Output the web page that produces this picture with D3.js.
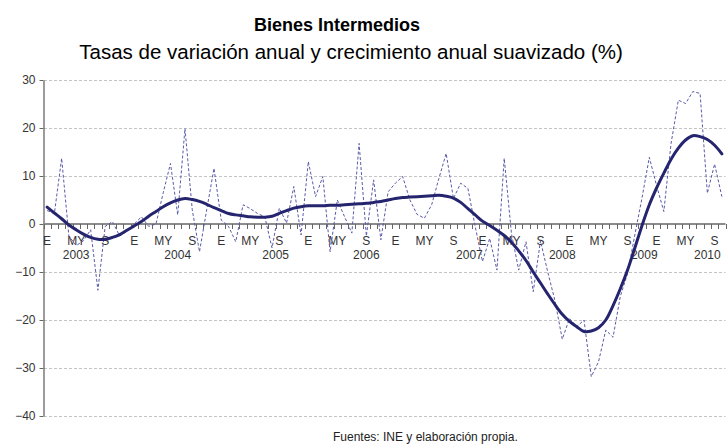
<!DOCTYPE html>
<html><head><meta charset="utf-8">
<script src="https://cdn.jsdelivr.net/npm/d3@7"></script>
<style>
body{margin:0;background:#fff}
svg{display:block}
text{font-family:"Liberation Sans",Arial,sans-serif}
</style>
</head><body>
<svg id="c" width="727" height="446"></svg>
<script>
// ---- data ----
const years = [2003, 2004, 2005, 2006, 2007, 2008, 2009, 2010];
const monthsInLastYear = 10;
const monthTickLabels = ["E", "", "", "", "MY", "", "", "", "S", "", "", ""];
const yTicks = [30, 20, 10, 0, -10, -20, -30, -40];
// year label anchors, expressed as month index counted from Jan 2003
const yearLabelAt = [4, 18, 31.5, 44, 58.2, 71, 82.3, 91];

// Tasa de variación anual (dashed)
const rawRate = [
  2.8, 2.2, 13.7, -2.5, -4.5, -3.5, -1.2, -13.8, -0.5, 0.5, -2.5, -1.5,
  0.0, 1.5, -0.5, 0.0, 6.5, 12.6, 1.9, 19.9, 3.0, -5.8, 3.0, 11.6,
  0.8, -0.5, -3.7, 4.0, 3.2, 2.2, 1.5, -5.0, 3.3, 0.2, 7.8, -2.3,
  13.0, 5.7, 9.9, -5.8, 5.0, 1.5, -1.9, 16.8, -2.5, 9.2, -3.3, 6.7,
  8.5, 9.9, 5.0, 2.0, 1.2, 4.0, 9.5, 14.7, 5.3, 8.5, 7.4, -0.5,
  -7.8, -3.0, -9.6, 13.7, -2.0, -9.6, -3.7, -14.1, -3.5, -10.0, -16.0, -24.0,
  -19.7, -21.4, -20.0, -31.8, -28.7, -22.1, -23.6, -15.1, -10.3, -2.3, 5.5, 13.9,
  8.0, 2.6, 16.8, 25.8, 25.1, 27.6, 27.2, 6.4, 12.5, 5.7
];
// Crecimiento anual suavizado (solid)
const smoothRate = [
  3.5, 2.3, 1.1, -0.2, -1.2, -2.1, -2.8, -3.2, -3.2, -2.8, -2.2, -1.3,
  -0.4, 0.5, 1.6, 2.6, 3.6, 4.4, 5.0, 5.3, 5.1, 4.7, 4.1, 3.4,
  2.8, 2.2, 1.9, 1.7, 1.5, 1.4, 1.4, 1.6, 2.2, 2.8, 3.3, 3.6,
  3.8, 3.8, 3.8, 3.9, 3.9, 4.0, 4.1, 4.2, 4.3, 4.5, 4.7, 5.0,
  5.3, 5.5, 5.6, 5.7, 5.8, 5.9, 6.0, 5.8, 5.4, 4.5, 3.2, 1.9,
  0.6, -0.3, -1.3, -2.4, -3.8, -5.6, -7.6, -10.0, -12.3, -14.6, -16.8, -18.8,
  -20.3, -21.4, -22.4, -22.3, -21.6, -20.0, -17.0, -13.5, -9.6, -5.0, -0.3, 4.0,
  7.5, 10.6, 13.5, 15.8, 17.5, 18.4, 18.2, 17.6, 16.4, 14.6
];

// categories (one per month)
const categories = [];
years.forEach((yr, yi) => {
  const n = yi === years.length - 1 ? monthsInLastYear : 12;
  for (let m = 0; m < n; m++) categories.push({ key: yr + "-" + (m + 1), year: yr, m: m });
});

// ---- chart ----
const svg = d3.select("#c");
const x = d3.scaleBand().domain(categories.map(d => d.key)).range([43.5, 725.5]).padding(0);
const y = d3.scaleLinear().domain([-40, 30]).range([416, 80]);
const bw = x.bandwidth();
const cx = k => x(k) + bw / 2;
const xIdx = i => x.range()[0] + (i + 0.5) * bw;

// gridlines
svg.append("g").selectAll("line").data(yTicks.filter(t => t !== 0)).join("line")
  .attr("x1", 44).attr("x2", 725.5)
  .attr("y1", d => Math.round(y(d)) + 0.5).attr("y2", d => Math.round(y(d)) + 0.5)
  .attr("stroke", "#c4c4c4").attr("stroke-width", 1).attr("stroke-dasharray", "3,2");

// y axis
const yAxis = svg.append("g").attr("transform", "translate(43.5,0)")
  .call(d3.axisLeft(y).tickValues(yTicks).tickSize(4).tickSizeOuter(0).tickPadding(4));
yAxis.select(".domain").attr("stroke", "#666").attr("stroke-width", 1.3);
yAxis.selectAll(".tick line").attr("stroke", "#666");
yAxis.selectAll(".tick text").attr("fill", "#333").style("font-size", "12px")
  .style("font-family", "'Liberation Sans', Arial, sans-serif");

// zero line with month tick marks
const y0 = y(0);
svg.append("line").attr("x1", 43.5).attr("x2", 725.5).attr("y1", y0).attr("y2", y0)
  .attr("stroke", "#8c8c8c").attr("stroke-width", 2);
svg.append("g").selectAll("line").data(d3.range(categories.length + 1)).join("line")
  .attr("x1", i => Math.round(x.range()[0] + i * bw) + 0.5)
  .attr("x2", i => Math.round(x.range()[0] + i * bw) + 0.5)
  .attr("y1", y0).attr("y2", y0 + 5)
  .attr("stroke", "#666").attr("stroke-width", 1);

// month labels
svg.append("g").selectAll("text").data(categories.filter(d => monthTickLabels[d.m] !== "")).join("text")
  .attr("x", d => cx(d.key)).attr("y", 244.5).attr("text-anchor", "middle")
  .attr("fill", "#333").style("font-size", "12px").text(d => monthTickLabels[d.m]);

// year labels
svg.append("g").selectAll("text").data(years).join("text")
  .attr("x", (d, i) => xIdx(yearLabelAt[i])).attr("y", 259).attr("text-anchor", "middle")
  .attr("fill", "#333").style("font-size", "12px").text(d => d);

// dashed series
const lineRaw = d3.line().x((d, i) => cx(categories[i].key)).y(d => y(d));
svg.append("path").datum(rawRate).attr("d", lineRaw)
  .attr("fill", "none").attr("stroke", "#5a5aa8").attr("stroke-width", 1)
  .attr("stroke-dasharray", "3,2");

// smoothed series
const lineSmooth = d3.line().x((d, i) => cx(categories[i].key)).y(d => y(d)).curve(d3.curveCatmullRom);
svg.append("path").datum(smoothRate).attr("d", lineSmooth)
  .attr("fill", "none").attr("stroke", "#25256f").attr("stroke-width", 3)
  .attr("stroke-linejoin", "round").attr("stroke-linecap", "round");

// titles
svg.append("text").attr("x", 337).attr("y", 31).attr("text-anchor", "middle")
  .style("font-size", "18px").style("font-weight", "bold").attr("fill", "#000")
  .text("Bienes Intermedios");
svg.append("text").attr("x", 351).attr("y", 59).attr("text-anchor", "middle")
  .style("font-size", "20.5px").attr("fill", "#000")
  .text("Tasas de variación anual y crecimiento anual suavizado (%)");
svg.append("text").attr("x", 333).attr("y", 441).attr("text-anchor", "start")
  .style("font-size", "12px").attr("fill", "#222")
  .text("Fuentes: INE y elaboración propia.");
</script>
</body></html>
